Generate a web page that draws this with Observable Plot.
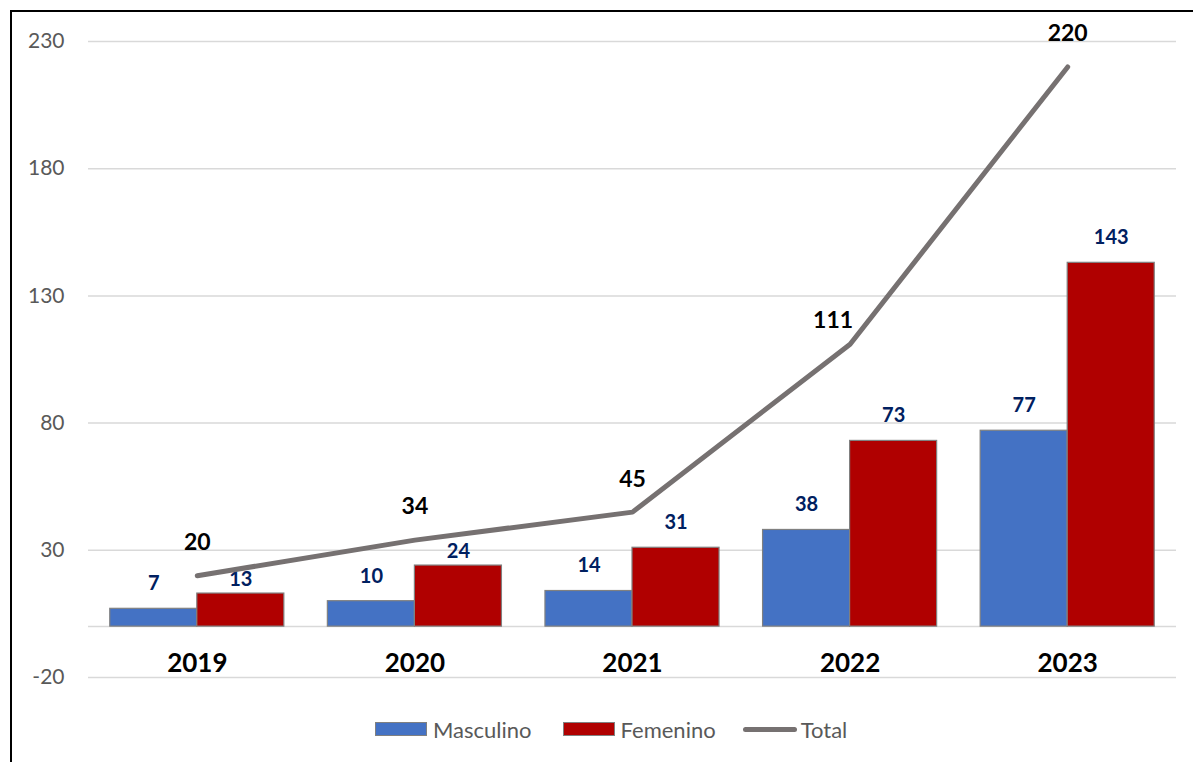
<!DOCTYPE html>
<html>
<head>
<meta charset="utf-8">
<script src="https://cdn.jsdelivr.net/npm/d3@7"></script>
<script src="https://cdn.jsdelivr.net/npm/@observablehq/plot@0.6"></script>
<style>
  html, body { margin: 0; padding: 0; background: #fff; overflow: hidden; }
  body { width: 1193px; height: 762px; position: relative; font-family: Lato, "Open Sans", sans-serif; }
  #frame { position: absolute; left: 10px; top: 10px; right: -20px; bottom: -20px;
           border-left: 2px solid #000; border-top: 2px solid #000; pointer-events: none; }
  #chart { position: absolute; left: 0; top: 0; }
  #legend { position: absolute; left: 375px; top: 715px; height: 28px; display: flex; align-items: center;
            font-size: 22px; color: #595959; font-family: Lato, sans-serif; }
  .item { display: flex; align-items: center; }
  .sw { width: 52px; height: 14px; border: 1px solid #808080; box-sizing: border-box; margin-right: 6px; }
  .ln { width: 54px; height: 5px; border-radius: 3px; background: #767171; margin-right: 4px; }
</style>
</head>
<body>
<div id="chart"></div>
<div id="legend">
  <div class="item"><div class="sw" style="background:#4472C4"></div><span>Masculino</span></div>
  <div class="item" style="margin-left:31px"><div class="sw" style="background:#B00000"></div><span>Femenino</span></div>
  <div class="item" style="margin-left:27px"><div class="ln"></div><span>Total</span></div>
</div>
<div id="frame"></div>
<script>
const years = [2019, 2020, 2021, 2022, 2023];
const masculino = [7, 10, 14, 38, 77];
const femenino = [13, 24, 31, 73, 143];
const total = [20, 34, 45, 111, 220];
const yTicks = [-20, 30, 80, 130, 180, 230];

const rows = years.map((year, i) => ({year, m: masculino[i], f: femenino[i], t: total[i]}));

const lowF = d => d.year <= 2020; // labels nudged down to avoid the line

const chart = Plot.plot({
  width: 1193,
  height: 700,
  marginLeft: 88,
  marginRight: 17,
  marginTop: 41,
  marginBottom: 23,
  x: {type: "linear", domain: [2018.5, 2023.5], axis: null},
  y: {domain: [-20, 230], axis: null},
  style: {fontFamily: "Lato, 'Open Sans', sans-serif", background: "transparent", overflow: "visible"},
  marks: [
    Plot.ruleY(yTicks, {stroke: "#d9d9d9", strokeWidth: 1.5}),
    Plot.ruleY([0], {stroke: "#d9d9d9", strokeWidth: 1.5}),
    Plot.text(yTicks, {y: d => d, frameAnchor: "left", dx: -24, textAnchor: "end", text: d => String(d), fontSize: 21, fill: "#595959"}),
    Plot.rect(rows, {x1: d => d.year - 0.4, x2: d => d.year, y1: 0, y2: "m", fill: "#4472C4", stroke: "#808080", strokeWidth: 1.2}),
    Plot.rect(rows, {x1: d => d.year, x2: d => d.year + 0.4, y1: 0, y2: "f", fill: "#B00000", stroke: "#808080", strokeWidth: 1.2}),
    Plot.text(rows, {x: d => d.year - 0.2, y: "m", dy: -25, text: d => String(d.m), fontSize: 20, fontWeight: "bold", fill: "#002060"}),
    Plot.text(rows.filter(d => !lowF(d)), {x: d => d.year + 0.2, y: "f", dy: -25, text: d => String(d.f), fontSize: 20, fontWeight: "bold", fill: "#002060"}),
    Plot.text(rows.filter(lowF), {x: d => d.year + 0.2, y: "f", dy: -14, text: d => String(d.f), fontSize: 20, fontWeight: "bold", fill: "#002060"}),
    Plot.line(rows, {x: "year", y: "t", stroke: "#767171", strokeWidth: 5, strokeLinecap: "round", strokeLinejoin: "round"}),
    Plot.text(rows.filter(d => d.year !== 2022), {x: "year", y: "t", dy: -33, text: d => String(d.t), fontSize: 23, fontWeight: "bold", fill: "#000", ariaLabel: "totals"}),
    Plot.text(rows.filter(d => d.year === 2022), {x: "year", y: "t", dx: -17, dy: -24, text: d => String(d.t), fontSize: 23, fontWeight: "bold", fill: "#000", ariaLabel: "totals"}),
    Plot.text(years, {x: d => d, y: 0, dy: 37, text: d => String(d), fontSize: 26, fontWeight: "bold", fill: "#000"})
  ]
});

d3.select(chart).selectAll('g[aria-label="totals"]').style("filter", "drop-shadow(1.5px 2px 1.5px rgba(0,0,0,0.5))");
document.getElementById("chart").appendChild(chart);
</script>
</body>
</html>
